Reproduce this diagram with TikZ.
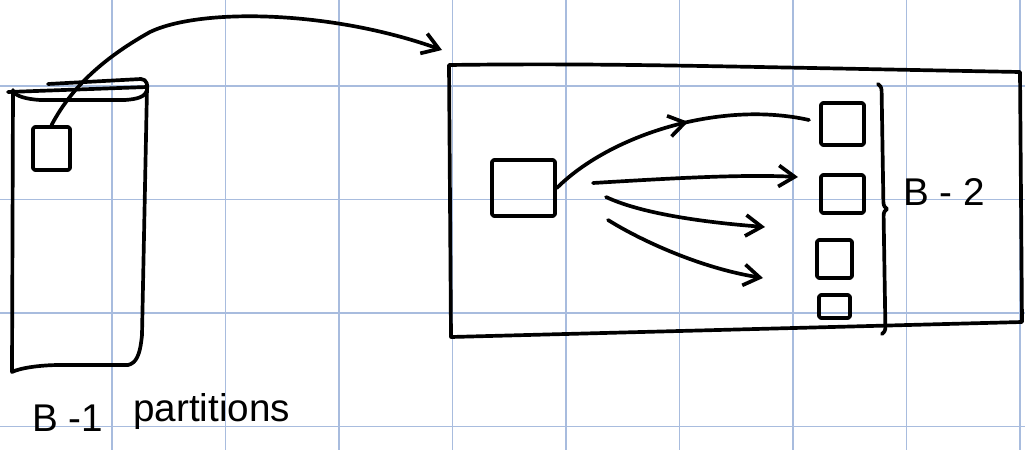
\documentclass[tikz,border=0pt]{standalone}
\usepackage{fontspec}
\setmainfont{Liberation Sans}
\usetikzlibrary{arrows.meta,decorations.pathreplacing,decorations.markings}
\definecolor{gridblue}{RGB}{168,188,222}
\tikzset{
  ink/.style={line width=2.1pt, line cap=round, line join=round, draw=black},
  box/.style={ink, rectangle, rounded corners=1pt, inner sep=0pt},
  hw/.style={font=\fontsize{22pt}{26pt}\selectfont, inner sep=0pt},
  barb/.tip={Straight Barb[length=0.32cm, width=0.42cm, line width=2.1pt]},
  arr/.style={ink, -barb},
}
\begin{document}
\begin{tikzpicture}[x=0.02cm, y=-0.02cm]
\useasboundingbox (0,0) rectangle (1025,450);
\fill[white] (0,0) rectangle (1025,450);
% grid
\foreach \gx in {112,225.5,339,452.5,566,679.5,793,906.5,1020}
  \draw[gridblue, line width=0.6pt] (\gx,0) -- (\gx,450);
\foreach \gy in {86,199.5,313,426.5}
  \draw[gridblue, line width=0.6pt] (0,\gy) -- (1025,\gy);

% left tall partition block
\draw[ink] (13,90) -- (12,372) .. controls (20,368) and (40,365) .. (60,365) -- (128,365)
  .. controls (136,363) and (140,356) .. (142,335) -- (147,88);
\draw[ink] (8,92) -- (147,87);
\draw[ink] (48,84) -- (141,79) .. controls (147,79) and (148,86) .. (147,90)
  .. controls (145,97) and (138,99) .. (125,100) -- (40,100)
  .. controls (25,99) and (17,96) .. (13,92);
\node[box, minimum width=0.74cm, minimum height=0.86cm] (sq1) at (51.5,148.5) {};

% big buffer rectangle
\coordinate (bTL) at (449,65);
\coordinate (bTR) at (1020,72);
\coordinate (bBR) at (1022,322);
\coordinate (bBL) at (451,337);
\draw[ink] (bTL) .. controls (600,63) and (700,66) .. (bTR) -- (bBR) -- (bBL) -- (bTL);

% long arrow from left partition to big rectangle
\coordinate (bigIn) at (442,50);
\draw[arr] (sq1.north) .. controls (70,90) and (100,60) .. (150,32)
  .. controls (200,8) and (330,10) .. (bigIn);

% source and target pages
\node[box, minimum width=1.26cm, minimum height=1.12cm] (src) at (523.5,188) {};
\node[box, minimum width=0.86cm, minimum height=0.84cm] (t1) at (842.5,124) {};
\node[box, minimum width=0.86cm, minimum height=0.76cm] (t2) at (842.5,194) {};
\node[box, minimum width=0.70cm, minimum height=0.76cm] (t3) at (834.5,259) {};
\node[box, minimum width=0.62cm, minimum height=0.46cm] (t4) at (834.5,306.5) {};

% arrows inside big rectangle
\coordinate (e1) at (809,120);
\draw[ink, postaction={decorate}, decoration={markings, mark=at position 0.55 with {\arrow{barb}}}]
  (src.east) .. controls (610,135) and (720,100) .. (e1);
\coordinate (s2) at (593,183);
\coordinate (e2) at (798,177);
\draw[arr] (s2) .. controls (660,179) and (740,174) .. (e2);
\coordinate (s3) at (606,197);
\coordinate (e3) at (765,227);
\draw[arr] (s3) .. controls (640,213) and (700,222) .. (e3);
\coordinate (s4) at (608,220);
\coordinate (e4) at (763,278);
\draw[arr] (s4) .. controls (640,240) and (700,268) .. (e4);

% brace and labels
\coordinate (brT) at (878,84);
\coordinate (brB) at (882,334);
\draw[ink, decorate, decoration={brace, amplitude=0.14cm}] (brT) -- (brB);
\node[hw, anchor=base west] (lb2) at (903,205) {B - 2};
\node[hw, anchor=base west] (lb1) at (32,431) {B -1};
\node[hw, anchor=base west] (lpart) at (133,421) {partitions};
\end{tikzpicture}
\end{document}
